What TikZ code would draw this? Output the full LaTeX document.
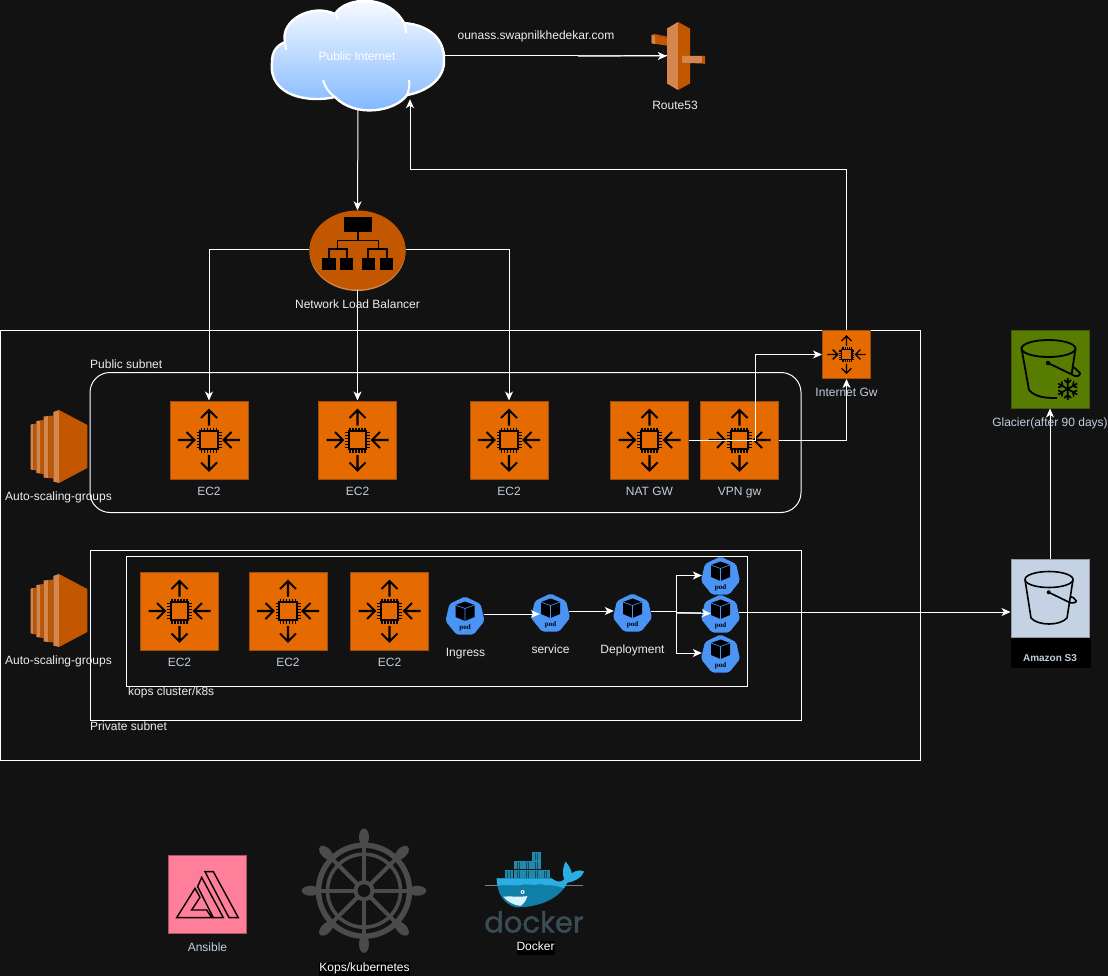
\documentclass[tikz,border=0pt]{standalone}
\usepackage{fontspec}
\setmainfont{Liberation Sans}
\newfontfamily\podfont{Liberation Serif}
\newfontfamily\dockerfont[FakeBold=1.3]{Poppins}
\usetikzlibrary{arrows.meta,shapes.geometric,calc}
\definecolor{bgc}{HTML}{121212}
\definecolor{ec2fill}{HTML}{E56A00}
\definecolor{ec2line}{HTML}{9A4E10}
\definecolor{awsdark}{HTML}{C25700}
\definecolor{awslight}{HTML}{D3864E}
\definecolor{podblue}{HTML}{4A94F5}
\definecolor{lblgray}{HTML}{C3CEDD}
\definecolor{lblwhite}{HTML}{EDEDED}
\definecolor{s3fill}{HTML}{C5D2E3}
\definecolor{glfill}{HTML}{587C00}
\definecolor{glline}{HTML}{3F5A00}
\definecolor{pink}{HTML}{FF7F9B}
\definecolor{pinkline}{HTML}{A85468}
\definecolor{kops}{HTML}{4B4B4B}
\definecolor{dockerlight}{HTML}{2BAEE4}
\definecolor{dockerdark}{HTML}{0F7FA8}
\definecolor{dockerbox}{HTML}{2389AB}
\definecolor{dockerline}{HTML}{0F4D63}
\definecolor{dockertext}{HTML}{394D54}
\definecolor{cloudmid}{HTML}{B5D4FC}
\definecolor{cloudlow}{HTML}{7AB4FF}
\tikzset{
  conn/.style={draw=white,line width=1pt,-{Stealth[length=9pt,width=8pt,inset=2.5pt]}},
  plain/.style={draw=white,line width=1pt},
  frame/.style={draw=white,line width=1pt},
  lbl/.style={text=lblgray,font=\fontsize{12}{14}\selectfont,inner sep=0pt,text height=8.6pt,text depth=0pt},
  lblw/.style={text=lblwhite,font=\fontsize{12}{14}\selectfont,inner sep=0pt,text height=8.6pt,text depth=0pt},
  blk/.style={text=white,fill=black,font=\fontsize{12}{14}\selectfont,inner sep=0pt,minimum height=14pt,text height=9pt,text depth=2.6pt},
  chipbox/.style={rectangle,fill=ec2fill,draw=ec2line,line width=1pt,minimum size=#1,inner sep=0pt},
  podnode/.style={regular polygon,regular polygon sides=7,minimum size=40pt,inner sep=0pt,fill=podblue,rounded corners=2pt},
  sq/.style={rectangle,minimum size=78pt,inner sep=0pt,line width=1pt}
}
\newcommand\chipicon[2]{%
\begin{scope}[shift={(#1.center)},scale=#2,draw=black,line width=#2*2.1pt]
  \draw (-8.7,-8.7) rectangle (8.7,8.7);
  \foreach \p in {-7.5,-4.5,-1.5,1.5,4.5,7.5}{
    \draw[line width=#2*1.1pt] (\p,-12.5)--(\p,-9.5) (\p,9.5)--(\p,12.5) (-12.5,\p)--(-9.5,\p) (9.5,\p)--(12.5,\p);
  }
  \draw (0,-14.5)--(0,-30) (-8,-22)--(0,-30)--(8,-22);
  \draw (0,15)--(0,30.5) (-8,22.5)--(0,30.5)--(8,22.5);
  \draw (-31,0)--(-14.5,0) (-22.5,-8)--(-14.5,0)--(-22.5,8);
  \draw (31,0)--(14.5,0) (22.5,-8)--(14.5,0)--(22.5,8);
\end{scope}}
\newcommand\podicon[1]{%
\begin{scope}[shift={(#1.center)}]
  \fill[black] (0,-15)--(9.5,-11.5)--(9.5,0.5)--(0,4.5)--(-9.5,0.5)--(-9.5,-11.5)--cycle;
  \draw[podblue,line width=.6pt] (-9.5,-11.5)--(0,-8)--(9.5,-11.5) (0,-8)--(0,4.5);
  \node[inner sep=0pt,text=black,font=\podfont\bfseries\fontsize{7}{8}\selectfont] (#1t) at (0,11.5) {pod};
\end{scope}}
\newcommand\asgicon[1]{%
\begin{scope}[shift={(#1.center)}]
  \fill[awslight] (-27.3,-12.5)--(-24.5,-13)--(-24.5,33)--(-27.3,32.5)--cycle;
  \fill[awsdark] (-24.5,-13)--(-21.7,-13.5)--(-21.7,33.5)--(-24.5,33)--cycle;
  \fill[awslight] (-21.7,-16)--(-18,-16.5)--(-18,36.5)--(-21.7,36)--cycle;
  \fill[awsdark] (-18,-16.5)--(-14.3,-17)--(-14.3,37)--(-18,36.5)--cycle;
  \fill[awslight] (-14.3,-20.5)--(-9.5,-21)--(-9.5,41)--(-14.3,40.5)--cycle;
  \fill[awsdark] (-9.5,-21)--(-4.7,-21.5)--(-4.7,41.5)--(-9.5,41)--cycle;
  \fill[awslight] (-4.7,-25)--(1,-27)--(1,46)--(-4.7,44.5)--cycle;
  \fill[awsdark] (1,-27)--(29.3,-12)--(29.3,31)--(1,46)--cycle;
\end{scope}}
\begin{document}
\begin{tikzpicture}[x=1pt,y=-1pt]
\useasboundingbox (0,0) rectangle (1108,976);
\fill[bgc] (0,0) rectangle (1108,976);

% containers
\node[frame,rectangle,inner sep=0pt,minimum width=920pt,minimum height=430pt] (vpc) at (460.5,545.5) {};
\node[frame,rectangle,rounded corners=20pt,inner sep=0pt,minimum width=711pt,minimum height=140pt] (pub) at (445.5,442.5) {};
\node[frame,rectangle,inner sep=0pt,minimum width=711pt,minimum height=170pt] (priv) at (445.5,635.5) {};
\node[frame,rectangle,inner sep=0pt,minimum width=621pt,minimum height=130pt] (kopsc) at (436.5,621.5) {};

% cloud
\node[inner sep=0pt,minimum width=172pt,minimum height=106pt] (inet) at (358,56) {};
\shade[top color=white,middle color=cloudmid,bottom color=cloudlow]
  (272,62) .. controls (272,52) and (276,46) .. (285,42)
  .. controls (280,20) and (312,3) .. (335,14)
  .. controls (345,-3) and (388,-7) .. (404,23)
  .. controls (430,25) and (445,40) .. (444,60)
  .. controls (445,80) and (425,92) .. (407,95)
  .. controls (395,112) and (355,118) .. (335,97)
  .. controls (310,103) and (268,97) .. (272,62) -- cycle;
\draw[white,line width=2.4pt,line join=round]
  (272,62) .. controls (272,52) and (276,46) .. (285,42)
  .. controls (280,20) and (312,3) .. (335,14)
  .. controls (345,-3) and (388,-7) .. (404,23)
  .. controls (430,25) and (445,40) .. (444,60)
  .. controls (445,80) and (425,92) .. (407,95)
  .. controls (395,112) and (355,118) .. (335,97)
  .. controls (310,103) and (268,97) .. (272,62) -- cycle;
\draw[white,line width=2pt] (285,42) -- (286,50) (335,14) -- (338,19) (404,23) .. controls (405,26) and (406,29) .. (406,33)
  (407,95) .. controls (409,90) and (410,85) .. (409,80) (335,97) .. controls (329,93) and (325,87) .. (323,80);
\node[inner sep=0pt,text=white,font=\fontsize{12}{14}\selectfont,text height=8.6pt,text depth=0pt] (inettext) at (357,56) {Public Internet};

% Route53
\node[inner sep=0pt,minimum width=23pt,minimum height=68pt] (rt) at (678.5,56) {};
\fill[awsdark] (651.7,35)--(654,34)--(674,38)--(674,39)--cycle;
\fill[awsdark] (651.7,35)--(674,39)--(674,46.7)--(651.7,43.3)--cycle;
\fill[awslight] (651.7,35)--(655,35.7)--(655,44)--(651.7,43.3)--cycle;
\fill[awslight] (667,28.5)--(678,22)--(678,90)--(667,83.5)--cycle;
\fill[awsdark] (678,22)--(690,28.5)--(690,83.5)--(678,90)--cycle;
\fill[awslight] (682,56)--(702,56)--(702,63.5)--(682,62.7)--cycle;
\fill[awsdark] (702,56)--(705,56)--(705,64)--(702,63.5)--cycle;
\node[lblw] (rtl) at (675,105) {Route53};
\node[lblw] (dom) at (536,35.5) {ounass.swapnilkhedekar.com};

% NLB
\fill[awslight] (357.5,251.5) ellipse [x radius=48,y radius=39.5];
\node[ellipse,fill=awsdark,inner sep=0pt,minimum width=96pt,minimum height=79pt] (nlb) at (357.5,250) {};
\fill[black] (344,217) rectangle (372,232);
\foreach \a/\b in {322/336,340/353,362/375,380/393}{\fill[black] (\a,258) rectangle (\b,270);}
\draw[black,line width=1.8pt] (358,232)--(358,240.5) (337.5,249)--(337.5,240.5)--(378.5,240.5)--(378.5,249)
  (329,258)--(329,249)--(347,249)--(347,258) (368,258)--(368,249)--(387,249)--(387,258);

% chip boxes
\node[chipbox=78pt] (e1) at (209,440) {};
\node[chipbox=78pt] (e2) at (357.5,440) {};
\node[chipbox=78pt] (e3) at (509,440) {};
\node[chipbox=78pt] (nat) at (649.5,440) {};
\node[chipbox=78pt] (vpn) at (739.5,440) {};
\node[chipbox=78pt] (p1) at (179.5,611) {};
\node[chipbox=78pt] (p2) at (288,611) {};
\node[chipbox=78pt] (p3) at (389.5,611) {};
\node[chipbox=48pt] (igw) at (846.5,354.5) {};
\chipicon{e1}{1}\chipicon{e2}{1}\chipicon{e3}{1}\chipicon{nat}{1}\chipicon{vpn}{1}
\chipicon{p1}{1}\chipicon{p2}{1}\chipicon{p3}{1}\chipicon{igw}{0.615}

% auto scaling
\node[inner sep=0pt,minimum width=58pt,minimum height=74pt] (as1) at (58,437) {};
\node[inner sep=0pt,minimum width=58pt,minimum height=74pt] (as2) at (58,601) {};
\asgicon{as1}\asgicon{as2}

% pods
\node[podnode] (ing) at (465,616.5) {};
\node[podnode] (srv) at (550.5,613.5) {};
\node[podnode] (dep) at (632.5,613.5) {};
\node[podnode] (pa) at (720.5,576.5) {};
\node[podnode] (pb) at (720.5,614.5) {};
\node[podnode] (pc) at (720.5,654.5) {};
\podicon{ing}\podicon{srv}\podicon{dep}\podicon{pa}\podicon{pb}\podicon{pc}

% S3
\node[rectangle,fill=black,inner sep=0pt,minimum width=80pt,minimum height=31pt] (s3bg) at (1050.5,652) {};
\node[sq,fill=s3fill,draw=gray!70!s3fill] (s3) at (1050,598) {};
\draw[black,line width=1.6pt] (1049,579.5) ellipse [x radius=24,y radius=8];
\draw[black,line width=1.6pt,line join=round] (1025,579.5) -- (1031,618) .. controls (1038,626) and (1060,626) .. (1067,618) -- (1073,579.5);
\fill[black] (1048.7,592.3) circle (2);
\draw[black,line width=1.6pt] (1048.7,592.3) -- (1070,602.7) .. controls (1074,603.5) and (1077,602) .. (1076,600.5) .. controls (1075,598) and (1072,597) .. (1070.7,596.7);
\node[inner sep=0pt,text=lblgray,font=\bfseries\fontsize{10}{12}\selectfont] (s3l) at (1050,658) {Amazon S3};

% Glacier
\node[sq,fill=glfill,draw=glline] (glc) at (1050,369) {};
\draw[black,line width=1.8pt] (1048.5,348.5) ellipse [x radius=27,y radius=8.5];
\draw[black,line width=1.8pt,line join=round] (1021.5,348.5) -- (1029,390) .. controls (1036,398) and (1048,398) .. (1057,398);
\draw[black,line width=1.8pt] (1075.5,348.5) -- (1071.5,375);
\fill[black] (1048,363) circle (2.2);
\draw[black,line width=1.8pt] (1048,363) -- (1075,376) .. controls (1080,377) and (1081,373) .. (1079,372) .. controls (1077,370) and (1075,368) .. (1073,367);
\begin{scope}[shift={(1067.7,389)}]
  \foreach \a in {0,60,...,300}{
    \draw[black,line width=1.6pt,rotate=\a] (0,0)--(0,-11) (-3.5,-9)--(0,-6)--(3.5,-9);
  }
\end{scope}

% Ansible
\node[rectangle,fill=pink,draw=pinkline,line width=1pt,inner sep=0pt,minimum size=78pt] (ans) at (207.5,894) {};
\begin{scope}[shift={(150,820)},x=0.3333pt,y=-0.3333pt]
  \draw[black,line width=1.4pt,line join=miter]
    (165,155)--(190,155)--(265,293)--(237,293)--cycle
    (155,172)--(220,293)--(190,293)--(143,200)--cycle
    (135,205)--(150,232)--(125,270)--(170,270)--(185,293)--(80,293)--cycle;
\end{scope}

% Kops wheel
\node[circle,inner sep=0pt,minimum size=124pt] (kw) at (364,890.7) {};
\begin{scope}[shift={(kw.center)}]
  \foreach \a in {0,45,...,315}{
    \draw[kops,line width=4pt,rotate=\a] (0,-9)--(0,-45);
    \fill[kops,rotate=\a] (0,-53.5) ellipse [x radius=5,y radius=8.7];
  }
  \draw[kops,line width=5.5pt] (0,0) circle (45.5);
  \draw[kops,line width=3.6pt] (0,0) circle (36.5);
  \draw[kops,line width=4pt] (0,0) circle (8.5);
\end{scope}

% Docker
\node[inner sep=0pt,minimum width=98pt,minimum height=86pt] (dk) at (534,891) {};
\begin{scope}[shift={(150,820)},x=0.3333pt,y=-0.3333pt]
  \foreach \x in {1065,1093,1120,1147,1174}{\fill[dockerbox] (\x,150) rectangle (\x+25,175);
    \draw[dockerline,line width=.5pt] (\x+8,152) -- (\x+8,173) (\x+16,152) -- (\x+16,173);}
  \foreach \x in {1093,1120,1147}{\fill[dockerbox] (\x,124) rectangle (\x+25,148);
    \draw[dockerline,line width=.5pt] (\x+8,126) -- (\x+8,146) (\x+16,126) -- (\x+16,146);}
  \fill[dockerbox] (1147,97) rectangle (1172,122);
  \draw[dockerline,line width=.5pt] (1155,99) -- (1155,120) (1163,99) -- (1163,120);
  \draw[gray,line width=.4pt] (1005,195) -- (1300,195);
  \fill[dockerdark] (1040,175) -- (1205,175) .. controls (1215,185) and (1235,190) .. (1243,178) .. controls (1235,160) and (1240,140) .. (1247,125) .. controls (1255,135) and (1265,150) .. (1265,160) .. controls (1280,150) and (1295,150) .. (1302,155) .. controls (1295,175) and (1270,185) .. (1252,188) .. controls (1230,235) and (1170,262) .. (1100,262) .. controls (1060,255) and (1040,215) .. (1040,175) -- cycle;
  \fill[dockerlight] (1040,175) -- (1205,175) .. controls (1215,185) and (1235,190) .. (1243,178) .. controls (1235,160) and (1240,140) .. (1247,125) .. controls (1255,135) and (1265,150) .. (1265,160) .. controls (1280,150) and (1295,150) .. (1302,155) .. controls (1295,175) and (1270,185) .. (1252,188) -- (1242,205) .. controls (1210,190) and (1190,200) .. (1170,192) .. controls (1150,200) and (1130,188) .. (1110,195) .. controls (1090,200) and (1065,190) .. (1043,198) -- cycle;
  \fill[white!85!cyan] (1060,230) .. controls (1085,228) and (1115,232) .. (1132,228) .. controls (1130,240) and (1122,250) .. (1112,258) .. controls (1090,255) and (1072,245) .. (1060,230) -- cycle;
  \fill[white] (1118,216) circle (6);
  \fill[bgc] (1118,216) circle (2.5);
\end{scope}
\node[inner sep=0pt,text=dockertext,font=\dockerfont\fontsize{29}{32}\selectfont,text height=21pt,text depth=0pt,anchor=base] (dkt) at (534,932.5) {docker};

% connectors
\draw[conn] (inet.south) -- (nlb.north);
\draw[plain] (inet.east) -- (rt.west);
\coordinate (rtg) at (578,56.3);
\draw[draw=gray!60!white,line width=1.2pt] (rtg) -- ([xshift=-2pt]rt.west);
\draw[conn] (inet.east) ++(180,0) -- (rt.west);
\draw[conn] (nlb.west) -| (e1.north);
\draw[conn] (nlb.south) -- (e2.north);
\draw[conn] (nlb.east) -| (e3.north);
\coordinate (ret) at (410,170);
\draw[conn] (igw.north) |- (ret) -- ([xshift=52pt,yshift=10pt]inet.south);
\coordinate (natj) at (755.5,440);
\draw[conn] (nat.east) -- (natj) |- (igw.west);
\draw[conn] (vpn.east) -| (igw.south);
\draw[conn] (s3.north) -- (glc.south);
\draw[conn] ([yshift=2.5pt]ing.east) -- ([xshift=8pt,yshift=-.5pt]srv.west);
\draw[conn] ([yshift=2.5pt]srv.east) -- ([yshift=2.5pt]dep.west);
\coordinate (dj) at (676.5,611);
\draw[plain] ([yshift=2.5pt]dep.east) -- (dj);
\draw[conn] (dj) |- ([yshift=1pt]pa.west);
\draw[conn] (dj) |- ([yshift=1.5pt]pc.west);
\draw[draw=gray!60!white,line width=2pt] (dj) ++(0,1.5) -- ++(24,0);
\draw[conn] (dj) ++(0,1.5) -- ([xshift=9pt,yshift=1pt]pb.west);
\draw[conn] ([yshift=2.5pt]pb.east) -- ([yshift=-14pt]s3.west);

% labels
\node[lblw,anchor=west] (publ) at (90,364) {Public subnet};
\node[lblw,anchor=west] (privl) at (90,726) {Private subnet};
\node[lblw,anchor=west] (kopsl) at (128,691) {kops cluster/k8s};
\node[lblw] (nlbl) at (357.5,304) {Network Load Balancer};
\node[lbl] (l1) at (209,491.5) {EC2};
\node[lbl] (l2) at (357.5,491.5) {EC2};
\node[lbl] (l3) at (509,491.5) {EC2};
\node[lbl] (l4) at (649.5,491.5) {NAT GW};
\node[lbl] (l5) at (739.5,491.5) {VPN gw};
\node[lbl] (l6) at (179.5,662.5) {EC2};
\node[lbl] (l7) at (288,662.5) {EC2};
\node[lbl] (l8) at (389.5,662.5) {EC2};
\node[lbl] (l9) at (846.5,392) {Internet Gw};
\node[lbl] (l10) at (1050,421.7) {Glacier(after 90 days)};
\node[lblw] (l11) at (58.5,496) {Auto-scaling-groups};
\node[lblw] (l12) at (58.5,660) {Auto-scaling-groups};
\node[lblw] (l13) at (465.5,652) {Ingress};
\node[lblw] (l14) at (550.5,649) {service};
\node[lblw] (l15) at (632.5,649) {Deployment};
\node[lbl] (l16) at (207.5,947) {Ansible};
\node[blk] (l17) at (364.5,968.5) {Kops/kubernetes};
\node[blk] (l18) at (535.5,947.5) {Docker};
\end{tikzpicture}
\end{document}
